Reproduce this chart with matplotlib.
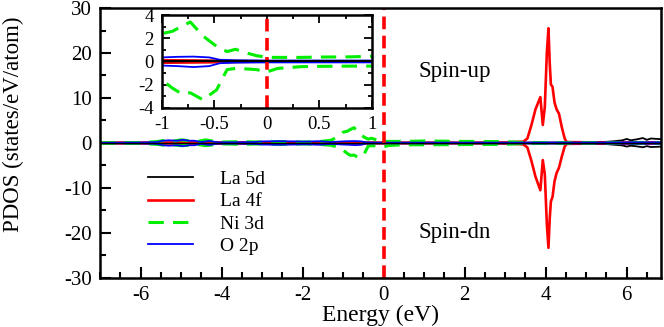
import numpy as np
import matplotlib
matplotlib.use("Agg")
import matplotlib.pyplot as plt
from matplotlib.ticker import MultipleLocator

plt.rcParams['font.family'] = ['Liberation Serif', 'DejaVu Serif']
plt.rcParams['axes.unicode_minus'] = False

# Data
# -----------------------------------------------------------------------------
# La 5d (black)
e_5d = [-7.0, -5.0, -3.0, -1.0, 0.0, 2.0, 4.0, 5.0, 5.5, 5.7, 5.9, 6.0, 6.1,
        6.25, 6.4, 6.5, 6.6, 6.75, 6.85]
up_5d = [0.05, 0.08, 0.08, 0.08, 0.05, 0.05, 0.1, 0.15, 0.25, 0.4, 0.6, 0.9,
         0.6, 0.8, 1.1, 0.7, 1.0, 0.9, 0.85]
dn_5d = [-0.05, -0.08, -0.08, -0.08, -0.05, -0.05, -0.1, -0.15, -0.25, -0.4,
         -0.55, -0.8, -0.6, -0.75, -0.95, -0.7, -0.9, -0.85, -0.8]

# La 4f (red)
e_4f = [-7.0, -5.0, -3.0, -1.0, -0.5, 0.0, 2.0, 3.0, 3.45, 3.55, 3.65, 3.75,
        3.87, 3.93, 3.98, 4.03, 4.07, 4.1, 4.13, 4.17, 4.22, 4.27, 4.33, 4.4,
        4.47, 4.52, 5.0, 6.0, 6.85]
up_4f = [0.05, 0.1, 0.1, 0.15, 0.1, 0.05, 0.05, 0.1, 0.3, 1.0, 4.0, 7.5,
         10.2, 4.0, 8.0, 20.0, 25.5, 18.0, 13.0, 12.5, 9.0, 7.5, 6.5, 3.5,
         1.0, 0.2, 0.15, 0.1, 0.1]
dn_4f = [-0.05, -0.1, -0.1, -0.15, -0.1, -0.05, -0.05, -0.1, -0.3, -1.0,
         -4.0, -7.5, -10.5, -3.8, -7.0, -18.0, -23.3, -17.0, -13.0, -12.0,
         -8.5, -6.7, -5.5, -3.0, -0.8, -0.2, -0.15, -0.1, -0.1]

# Ni 3d (green, dashed)
e_3d = [-7.0, -6.0, -5.6, -5.4, -5.2, -5.0, -4.8, -4.6, -4.4, -4.2, -4.0,
        -3.5, -3.0, -2.5, -2.0, -1.6, -1.3, -1.1, -1.0, -0.9, -0.82, -0.73,
        -0.61, -0.48, -0.38, -0.3, -0.18, -0.1, 0.0, 0.1, 0.32, 0.5, 0.8,
        1.0, 2.0, 3.0, 3.5, 4.0, 5.0, 6.0, 6.85]
up_3d = [0.05, 0.1, 0.3, 0.6, 0.4, 0.7, 0.5, 0.3, 0.7, 0.4, 0.2, 0.3, 0.2,
         0.3, 0.2, 0.3, 0.6, 1.5, 2.4, 2.6, 3.0, 3.4, 2.2, 1.3, 0.85, 1.05,
         0.7, 0.5, 0.36, 0.35, 0.35, 0.38, 0.4, 0.45, 0.35, 0.3, 0.1, 0.05,
         0.05, 0.05, 0.05]
dn_3d = [-0.05, -0.1, -0.3, -0.5, -0.4, -0.6, -0.5, -0.3, -0.6, -0.4, -0.2,
         -0.3, -0.2, -0.3, -0.2, -0.3, -0.5, -1.0, -1.6, -2.3, -2.75, -2.7,
         -3.3, -2.45, -0.7, -0.6, -0.65, -0.7, -0.9, -0.6, -0.45, -0.42,
         -0.4, -0.4, -0.35, -0.3, -0.1, -0.05, -0.05, -0.05, -0.05]

# O 2p (blue)
e_2p = [-7.0, -6.0, -5.6, -5.45, -5.3, -5.1, -4.95, -4.8, -4.67, -4.5, -4.3,
        -4.1, -3.6, -3.2, -3.0, -2.6, -2.2, -1.9, -1.6, -1.3, -1.0, -0.85,
        -0.7, -0.55, -0.45, -0.3, 0.0, 0.5, 1.0, 2.0, 3.0, 4.0, 5.0, 6.0, 6.85]
up_2p = [0.05, 0.1, 0.2, 0.5, 0.6, 0.5, 0.7, 0.5, 0.5, 0.2, 0.45, 0.15,
         0.15, 0.2, 0.35, 0.4, 0.35, 0.3, 0.4, 0.2, 0.35, 0.4, 0.42, 0.35,
         0.15, 0.1, 0.08, 0.08, 0.08, 0.08, 0.08, 0.1, 0.1, 0.15, 0.15]
dn_2p = [-0.05, -0.1, -0.2, -0.5, -0.6, -0.5, -0.7, -0.5, -0.5, -0.2, -0.45,
         -0.15, -0.15, -0.2, -0.35, -0.4, -0.35, -0.3, -0.4, -0.2, -0.35,
         -0.4, -0.48, -0.4, -0.15, -0.1, -0.08, -0.08, -0.08, -0.08, -0.08,
         -0.1, -0.1, -0.15, -0.15]

labels = ["La 5d", "La 4f", "Ni 3d", "O 2p"]
inset_xticks = [-1, -0.5, 0, 0.5, 1]
inset_xticklabels = ["-1", "-0.5", "0", "0.5", "1"]


# Plot
# -----------------------------------------------------------------------------

def draw_curves(ax, lw, lw_4f):
    ax.plot(e_5d, up_5d, color='black', lw=lw, label=labels[0])
    ax.plot(e_5d, dn_5d, color='black', lw=lw)
    ax.plot(e_4f, up_4f, color='red', lw=lw_4f, label=labels[1])
    ax.plot(e_4f, dn_4f, color='red', lw=lw_4f)
    ax.plot(e_3d, up_3d, color='#00ee00', lw=lw * 1.7, ls=(0, (5, 3)),
            label=labels[2])
    ax.plot(e_3d, dn_3d, color='#00ee00', lw=lw * 1.7, ls=(0, (5, 3)))
    ax.plot(e_2p, up_2p, color='blue', lw=lw, label=labels[3])
    ax.plot(e_2p, dn_2p, color='blue', lw=lw)
    ax.axvline(0, color='red', lw=2.6, ls=(0, (3.5, 1.8)))


fig = plt.figure(figsize=(6.64, 3.27), dpi=100)
ax = fig.add_axes([0.1506, 0.150, 0.845, 0.8255])
draw_curves(ax, 1.3, 1.9)
ax.axhline(0, color='black', lw=1.0)
ax.set_xlim(-7.0, 6.85)
ax.set_ylim(-30, 30)
ax.xaxis.set_major_locator(MultipleLocator(2))
ax.xaxis.set_minor_locator(MultipleLocator(0.5))
ax.yaxis.set_major_locator(MultipleLocator(10))
ax.yaxis.set_minor_locator(MultipleLocator(5))
ax.tick_params(which='both', direction='in', top=False, right=False,
               labelsize=15, width=1.5)
ax.tick_params(which='major', length=8, pad=6)
ax.tick_params(which='minor', length=4)
for s in ax.spines.values():
    s.set_linewidth(1.8)
ax.set_xlabel("Energy (eV)", fontsize=17, labelpad=0)
ax.set_ylabel("PDOS (states/eV/atom)", fontsize=16.5)
ax.yaxis.set_label_coords(-0.135, 0.57)

ax.text(1.75, 15.8, "Spin-up", fontsize=16.5, ha='center', va='center')
ax.text(1.75, -19.8, "Spin-dn", fontsize=16.5, ha='center', va='center')

ax.legend(loc='upper left', bbox_to_anchor=(0.068, 0.435), frameon=False,
          fontsize=14, handlelength=2.3, labelspacing=0.25, handletextpad=1.4,
          borderpad=0)

# inset
axin = fig.add_axes([0.244, 0.670, 0.316, 0.284])
draw_curves(axin, 1.3, 1.2)
axin.axhline(0, color='black', lw=1.5)
axin.set_xlim(-1, 1)
axin.set_ylim(-4, 4)
axin.yaxis.set_major_locator(MultipleLocator(2))
axin.yaxis.set_minor_locator(MultipleLocator(1))
axin.set_xticks(inset_xticks)
axin.set_xticklabels(inset_xticklabels)
axin.xaxis.set_minor_locator(MultipleLocator(0.25))
axin.tick_params(which='both', direction='in', top=True, right=True,
                 labelsize=13.5, width=1.3)
axin.tick_params(which='major', length=6, pad=6)
axin.tick_params(which='minor', length=3)
for s in axin.spines.values():
    s.set_linewidth(1.8)

fig.savefig("out.png", dpi=100)
